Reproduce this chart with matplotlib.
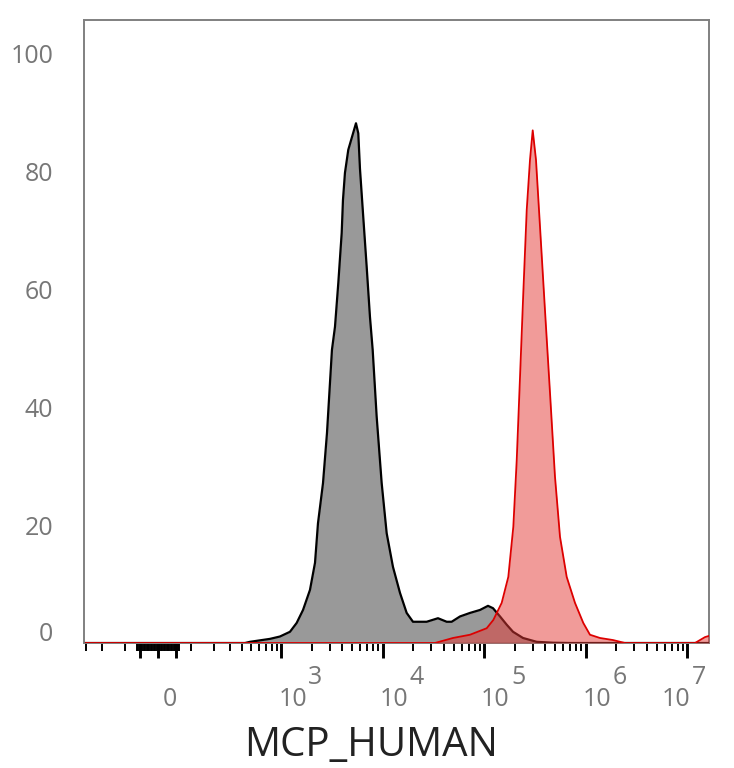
import numpy as np
import matplotlib
matplotlib.use("Agg")
import matplotlib.pyplot as plt
from matplotlib.transforms import ScaledTranslation

plt.rcParams['font.family'] = ['Open Sans', 'DejaVu Sans']

# ---- data (fluorescence intensity, % of max) ----
gray_x = [-300, 431, 484, 769, 966, 1215, 1415, 1635, 1915, 2147, 2297, 2574, 2818,
          3016, 3154, 3379, 3642, 3934, 4050, 4237, 4569, 5441, 5733, 5956, 6418,
          6934, 7470, 7946, 8697, 9746, 10918, 12590, 14762, 17178, 19818, 27035,
          34950, 42580, 47650, 57580, 72280, 90600, 108640, 121700, 142680, 166100,
          191600, 240400, 327800, 474600, 698400, 16320000]
gray_y = [0, 0, 0.2, 0.7, 1.1, 1.9, 3.4, 5.6, 9.0, 13.6, 20.3, 27.1, 35.6,
          44.1, 49.7, 53.6, 61.0, 69.5, 75.1, 79.7, 83.6, 88.1, 86.4, 80.4, 72.2,
          63.8, 55.3, 49.7, 38.4, 27.1, 18.6, 12.9, 8.5, 5.1, 3.6, 3.6,
          4.2, 3.6, 3.6, 4.5, 5.1, 5.6, 6.3, 5.9, 4.5, 3.1,
          1.9, 0.85, 0.2, 0.05, 0, 0]

red_x = [-300, 32660, 49090, 72280, 105480, 122560, 148230, 172200, 192950, 208450,
         224600, 241900, 261500, 281660, 299500, 322600, 353260, 395600, 443300,
         496250, 556100, 647400, 781400, 943100, 1097400, 1376800, 1848900, 2427800,
         11890000, 13310000, 14910000, 16320000]
red_y = [0, 0, 0.85, 1.4, 2.5, 3.9, 6.8, 11.2, 19.7, 31.0,
         45.1, 59.3, 73.4, 81.9, 86.9, 81.9, 70.6, 56.4, 42.4,
         28.2, 18.0, 11.2, 6.8, 3.4, 1.4, 0.85, 0.5, 0,
         0, 0.5, 1.0, 1.2]

y_ticks = [0, 20, 40, 60, 80, 100]
decades = [3, 4, 5, 6, 7]
x_label = "MCP_HUMAN"

# ---- biexponential-like axis ----
C = 122.0
def fwd(x):
    return np.arcsinh(np.asarray(x, dtype=float) / C)
def inv(y):
    return C * np.sinh(np.asarray(y, dtype=float))

fig = plt.figure(figsize=(7.34, 7.68), dpi=100)
ax = fig.add_axes([84/734, 1 - 643/768, (709-84)/734, (643-20)/768])
ax.set_xscale('function', functions=(fwd, inv))
ax.set_xlim(-315, 1.632e7)
ax.set_ylim(0, 105.6)

ax.fill_between(gray_x, gray_y, 0, color='#999999', lw=0, zorder=2)
ax.plot(gray_x, gray_y, color='black', lw=1.6, zorder=3, solid_joinstyle='round')
ax.fill_between(red_x, red_y, 0, color='#e53935', alpha=0.5, lw=0, zorder=4)
ax.plot(red_x, red_y, color='#dd0000', lw=1.3, zorder=5, solid_joinstyle='round')

# spines
for s in ax.spines.values():
    s.set_color('#808080')
    s.set_linewidth(1.4)

# x ticks
major = [0, -50, 50] + [10**d for d in decades]
minor = [v for v in range(-60, 61, 4) if v not in (0, -50, 50)]
minor += [-m * 100 for m in range(1, 4)] + [m * 100 for m in range(1, 10)]
for d in range(3, 7):
    minor += [m * 10**d for m in range(2, 10)]
ax.set_xticks(major)
ax.set_xticks(minor, minor=True)
ax.set_xticklabels([])
ax.tick_params(axis='x', which='major', direction='out', length=10.5, width=2.1,
               color='black', labelbottom=False)
ax.tick_params(axis='x', which='minor', direction='out', length=5.8, width=1.4,
               color='black', labelbottom=False)

# x tick labels (0 and 10^n with raised exponent)
lab_kw = dict(xycoords=('data', 'axes fraction'), textcoords='offset points',
              ha='center', va='center', fontsize=18, color='#777777')
ax.annotate('0', xy=(0, 0), xytext=(8.5, -41), **lab_kw)
for i, d in enumerate(decades):
    last = i == len(decades) - 1
    base_dx = -8.5 if last else 8.0
    exp_dx = 8.5 if last else 24.5
    ax.annotate('10', xy=(10**d, 0), xytext=(base_dx, -41), **lab_kw)
    ax.annotate(str(d), xy=(10**d, 0), xytext=(exp_dx, -25), **lab_kw)

# y ticks
ax.set_yticks(y_ticks)
ax.set_yticklabels([str(v) for v in y_ticks])
ax.tick_params(axis='y', length=0, pad=22, labelsize=18, labelcolor='#777777')
zero_lab = ax.get_yticklabels()[0]
zero_lab.set_transform(zero_lab.get_transform() +
                       ScaledTranslation(0, 8/72, fig.dpi_scale_trans))

ax.set_xlabel(x_label, fontsize=29, color='#222222', labelpad=0)
ax.xaxis.set_label_coords((371-84)/625, -(746-643)/623)
ax.xaxis.label.set_va('center')

fig.savefig('out.png', dpi=100, facecolor='white')
